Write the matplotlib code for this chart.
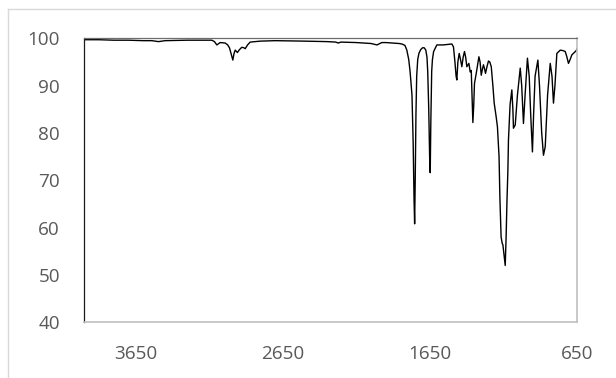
import matplotlib
matplotlib.use("Agg")
import matplotlib.pyplot as plt
from matplotlib.lines import Line2D

wavenumber = [4000, 3900, 3800, 3700, 3600, 3540, 3496, 3450, 3300, 3200, 3133,
              3115, 3099, 3085, 3076, 3042, 3025, 3013, 3000, 2990, 2982, 2974,
              2965, 2959, 2945, 2929, 2915, 2906, 2890, 2872, 2804, 2700, 2500,
              2350, 2290, 2274, 2255, 2150, 2050, 2010, 1977, 1950, 1900, 1860,
              1841, 1820, 1807, 1794, 1785, 1772, 1764, 1758, 1754, 1750, 1745,
              1740, 1733, 1725, 1713, 1700, 1689, 1678, 1670, 1665, 1658, 1652,
              1648, 1644, 1638, 1633, 1625, 1603, 1560, 1501, 1490, 1480, 1472,
              1467, 1460, 1451, 1442, 1433, 1424, 1415, 1407, 1399, 1385, 1376,
              1369, 1364, 1358, 1352, 1347, 1335, 1317, 1309, 1301, 1293, 1286,
              1279, 1272, 1262, 1252, 1243, 1233, 1222, 1213, 1200, 1191, 1180,
              1174, 1166, 1158, 1154, 1145, 1138, 1132, 1126, 1120, 1116, 1105,
              1093, 1086, 1082, 1070, 1055, 1036, 1026, 1014, 1003, 987, 975, 965,
              953, 945, 935, 916, 905, 890, 878, 866, 850, 832, 820, 810, 800, 787,
              764, 745, 730, 720, 708, 697, 685, 662, 655, 650]

transmittance = [99.7, 99.7, 99.6, 99.6, 99.5, 99.5, 99.3, 99.5, 99.6, 99.6, 99.6,
                 99.3, 98.6, 98.9, 99.1, 99.0, 98.6, 98.0, 96.5, 95.4, 96.8, 97.5,
                 97.2, 97.0, 97.6, 98.1, 98.0, 97.8, 98.6, 99.2, 99.4, 99.5, 99.4,
                 99.3, 99.2, 99.0, 99.2, 99.1, 98.9, 98.6, 99.1, 99.1, 99.0, 98.9,
                 98.8, 98.5, 97.5, 95.5, 93.0, 88.0, 78.0, 66.0, 60.8, 70.0, 84.0,
                 92.0, 95.5, 96.8, 97.6, 98.0, 98.0, 97.5, 96.0, 93.0, 85.0, 75.0,
                 71.6, 82.0, 93.0, 95.5, 97.2, 98.6, 98.6, 98.8, 98.2, 95.0, 92.0,
                 91.2, 95.0, 96.8, 95.5, 94.0, 96.0, 97.2, 96.0, 94.0, 94.7, 92.9,
                 93.2, 88.0, 82.2, 86.0, 90.5, 92.6, 96.1, 95.0, 92.2, 93.5, 94.4,
                 93.6, 92.6, 94.0, 95.2, 95.0, 94.0, 90.0, 86.3, 83.5, 81.3, 75.0,
                 66.0, 58.0, 56.6, 56.4, 54.0, 52.0, 58.0, 65.8, 72.0, 78.5, 86.0,
                 89.1, 85.0, 81.0, 81.7, 88.0, 93.7, 90.0, 82.0, 88.0, 95.8, 92.0,
                 84.0, 76.0, 84.0, 92.0, 95.4, 90.0, 80.0, 75.3, 77.1, 88.0, 94.7,
                 92.0, 86.3, 90.0, 96.8, 97.5, 97.4, 97.2, 96.2, 94.7, 95.5, 96.5,
                 97.2, 97.4, 97.8]

x_ticks = [3650, 2650, 1650, 650]
y_ticks = [40, 50, 60, 70, 80, 90, 100]

plt.rcParams['font.family'] = ['Open Sans', 'DejaVu Sans']

fig = plt.figure(figsize=(6.16, 3.78), dpi=100)
ax = fig.add_axes([84.3 / 616, 1 - 322.3 / 378, (577 - 84.3) / 616, 284 / 378])

ax.plot(wavenumber, transmittance, color='black', linewidth=1.0)
ax.set_xlim(4000, 650)
ax.set_ylim(40, 100)
ax.set_xticks(x_ticks)
ax.set_yticks(y_ticks)
ax.tick_params(axis='both', length=0, labelsize=13.6, labelcolor='#595959')
ax.tick_params(axis='y', pad=17.5)
ax.tick_params(axis='x', pad=16.5)

ax.spines['left'].set_color('#1a1a1a')
ax.spines['left'].set_linewidth(0.9)
ax.spines['top'].set_color('#6e6e6e')
ax.spines['top'].set_linewidth(0.9)
ax.spines['right'].set_color('#bfbfbf')
ax.spines['right'].set_linewidth(1.2)
ax.spines['bottom'].set_color('#bfbfbf')
ax.spines['bottom'].set_linewidth(1.2)

# outer chart border (top and left visible)
fig.add_artist(Line2D([8 / 616, 1.0], [1 - 9 / 378, 1 - 9 / 378],
                      transform=fig.transFigure, color='#d9d9d9', linewidth=1))
fig.add_artist(Line2D([8 / 616, 8 / 616], [0.0, 1 - 9 / 378],
                      transform=fig.transFigure, color='#d9d9d9', linewidth=1))

fig.savefig('out.png', dpi=100)
